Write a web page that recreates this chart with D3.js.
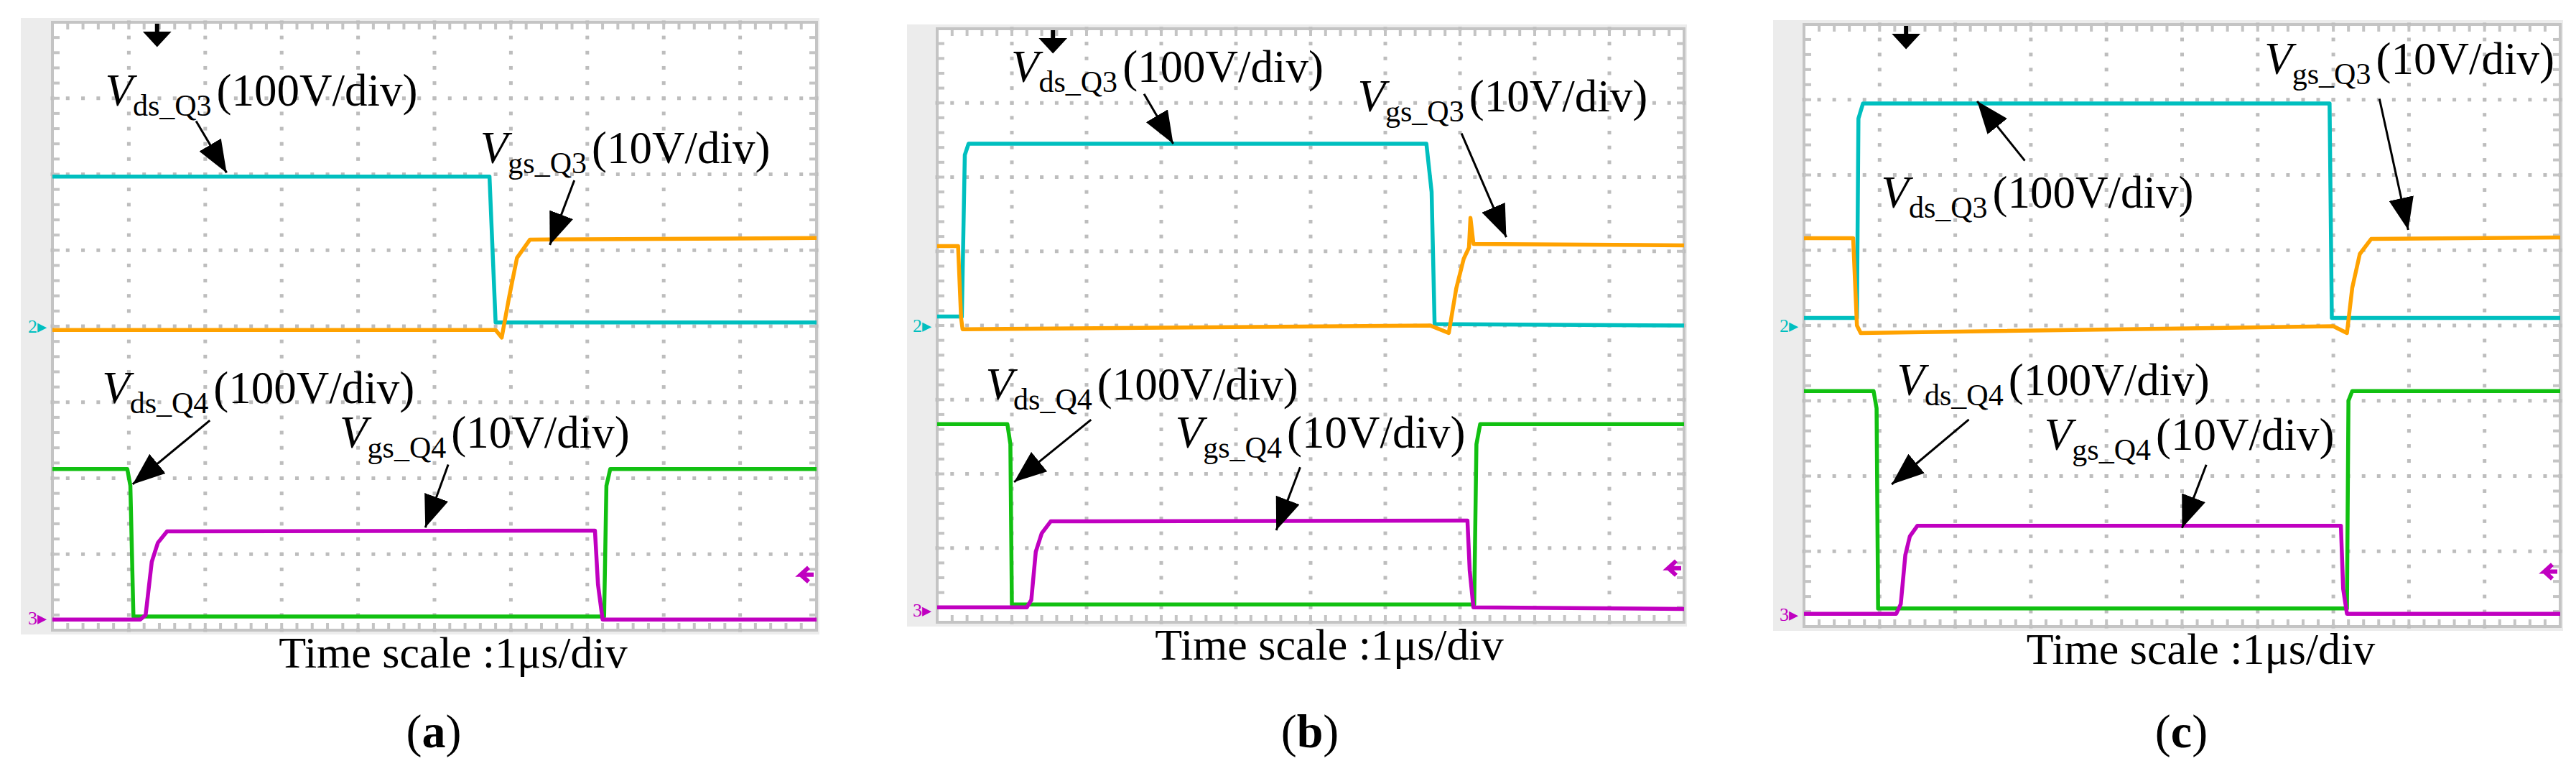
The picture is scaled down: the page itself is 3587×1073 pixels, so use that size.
<!DOCTYPE html>
<html>
<head>
<meta charset="utf-8">
<script src="https://cdn.jsdelivr.net/npm/d3@7"></script>
<style>
  body { margin: 0; background: #fff; }
  text { font-family: "Liberation Serif", "Times New Roman", serif; }
</style>
</head>
<body>
<div id="chart"></div>
<script>
const width = 3587;
const height = 1073;

// Waveforms: [time in div (0..10), level in div from top (0..8)]
const vdsQ3 = {
  a: [[0, 2.03], [5.72, 2.03], [5.76, 3.0], [5.8, 3.95], [10, 3.95]],
  b: [[0, 3.88], [0.33, 3.88], [0.37, 1.7], [0.42, 1.55], [6.55, 1.55], [6.62, 2.2], [6.66, 3.98], [10, 4.0]],
  c: [[0, 3.9], [0.7, 3.9], [0.72, 1.25], [0.78, 1.05], [6.95, 1.05], [6.98, 3.9], [10, 3.9]]
};
const vgsQ3 = {
  a: [[0, 4.05], [5.8, 4.05], [5.88, 4.15], [5.98, 3.6], [6.08, 3.1], [6.25, 2.86], [10, 2.84]],
  b: [[0, 2.93], [0.28, 2.93], [0.32, 3.9], [0.34, 4.05], [6.6, 4.0], [6.85, 4.1], [6.95, 3.5], [7.05, 3.1], [7.12, 2.95], [7.14, 2.55], [7.18, 2.9], [10, 2.92]],
  c: [[0, 2.84], [0.65, 2.84], [0.7, 4.0], [0.75, 4.1], [7.0, 4.01], [7.18, 4.1], [7.25, 3.5], [7.35, 3.05], [7.5, 2.85], [10, 2.83]]
};
const vdsQ4 = {
  a: [[0, 5.88], [0.98, 5.88], [1.02, 6.1], [1.06, 7.82], [7.22, 7.82], [7.25, 6.1], [7.3, 5.88], [10, 5.88]],
  b: [[0, 5.33], [0.94, 5.33], [0.98, 5.6], [1.0, 7.76], [7.19, 7.76], [7.22, 5.6], [7.27, 5.33], [10, 5.33]],
  c: [[0, 4.87], [0.92, 4.87], [0.96, 5.1], [0.98, 7.76], [7.18, 7.76], [7.2, 5.0], [7.25, 4.87], [10, 4.87]]
};
const vgsQ4 = {
  a: [[0, 7.86], [1.15, 7.86], [1.22, 7.8], [1.3, 7.1], [1.38, 6.85], [1.5, 6.7], [7.1, 6.69], [7.14, 7.4], [7.2, 7.86], [10, 7.86]],
  b: [[0, 7.8], [1.2, 7.8], [1.26, 7.7], [1.32, 7.05], [1.4, 6.8], [1.52, 6.64], [7.1, 6.63], [7.13, 7.3], [7.18, 7.8], [10, 7.82]],
  c: [[0, 7.83], [1.22, 7.83], [1.28, 7.7], [1.34, 7.05], [1.4, 6.8], [1.5, 6.66], [7.1, 6.66], [7.13, 7.5], [7.18, 7.83], [10, 7.83]]
};

const panelIds = ["a", "b", "c"];
const traceColors = { vdsQ3: "#00bfbf", vgsQ3: "#ffa200", vdsQ4: "#11c011", vgsQ4: "#c000c0" };

// label text parts and pointer arrows, in div units
const labels = {
  a: [
    { sub: "ds_Q3", unit: "(100V/div)", x: 0.69, y: 1.1, arrow: [[1.88, 1.3], [2.28, 1.98]] },
    { sub: "gs_Q3", unit: "(10V/div)", x: 5.6, y: 1.85, arrow: [[6.83, 2.08], [6.51, 2.93]] },
    { sub: "ds_Q4", unit: "(100V/div)", x: 0.65, y: 5.01, arrow: [[2.06, 5.24], [1.05, 6.08]] },
    { sub: "gs_Q4", unit: "(10V/div)", x: 3.76, y: 5.6, arrow: [[5.18, 5.82], [4.88, 6.65]] }
  ],
  b: [
    { sub: "ds_Q3", unit: "(100V/div)", x: 0.99, y: 0.72, arrow: [[2.77, 0.88], [3.16, 1.55]] },
    { sub: "gs_Q3", unit: "(10V/div)", x: 5.63, y: 1.11, arrow: [[7.02, 1.41], [7.62, 2.81]] },
    { sub: "ds_Q4", unit: "(100V/div)", x: 0.65, y: 5.0, arrow: [[2.06, 5.27], [1.03, 6.11]] },
    { sub: "gs_Q4", unit: "(10V/div)", x: 3.19, y: 5.65, arrow: [[4.86, 5.91], [4.54, 6.76]] }
  ],
  c: [
    { sub: "ds_Q3", unit: "(100V/div)", x: 1.02, y: 2.43, arrow: [[2.92, 1.81], [2.29, 1.02]] },
    { sub: "gs_Q3", unit: "(10V/div)", x: 6.09, y: 0.66, arrow: [[7.61, 0.99], [7.99, 2.73]] },
    { sub: "ds_Q4", unit: "(100V/div)", x: 1.23, y: 4.93, arrow: [[2.18, 5.25], [1.16, 6.11]] },
    { sub: "gs_Q4", unit: "(10V/div)", x: 3.18, y: 5.65, arrow: [[5.32, 5.85], [5.0, 6.69]] }
  ]
};
const triggerX = { a: 1.37, b: 1.55, c: 1.35 };

// grid boxes in page pixels
const boxes = {
  a: { x: 73, y: 31, w: 1064, h: 846, grey: 29 },
  b: { x: 1305, y: 40, w: 1040, h: 826, grey: 1263 },
  c: { x: 2512, y: 34, w: 1053, h: 838, grey: 2469 }
};

const svg = d3.select("#chart").append("svg").attr("width", width).attr("height", height);
svg.append("defs").append("marker").attr("id", "head")
  .attr("markerUnits", "userSpaceOnUse").attr("orient", "auto")
  .attr("viewBox", "0 0 45 35")
  .attr("markerWidth", 45).attr("markerHeight", 35).attr("refX", 45).attr("refY", 17.5)
  .append("path").attr("d", "M0,0 L45,17.5 L0,35 Z").attr("fill", "#000");

panelIds.forEach((id) => {
  const b = boxes[id];
  const x = d3.scaleLinear().domain([0, 10]).range([b.x, b.x + b.w]);
  const y = d3.scaleLinear().domain([0, 8]).range([b.y, b.y + b.h]);
  const g = svg.append("g");

  // screen frame
  g.append("rect").attr("x", b.grey).attr("y", b.y - 6).attr("width", b.x + b.w + 4 - b.grey).attr("height", b.h + 12).attr("fill", "#ececec");
  g.append("rect").attr("x", b.x).attr("y", b.y).attr("width", b.w).attr("height", b.h).attr("fill", "#fff").attr("stroke", "#c4c4c4").attr("stroke-width", 4);

  // dotted grid
  const minor = d3.range(0, 50.01, 1).map((d) => d / 5);
  const minorY = d3.range(0, 40.01, 1).map((d) => d / 5);
  d3.range(1, 10).forEach((gx) => {
    g.selectAll(null).data(minorY).join("rect")
      .attr("x", x(gx) - 2.5).attr("y", (d) => y(d) - 2.5).attr("width", 5).attr("height", 5).attr("fill", "#bdbdbd");
  });
  d3.range(1, 8).forEach((gy) => {
    g.selectAll(null).data(minor).join("rect")
      .attr("x", (d) => x(d) - 2.5).attr("y", y(gy) - 2.5).attr("width", 5).attr("height", 5).attr("fill", "#bdbdbd");
  });
  // border ticks
  const tick = (sel) => sel.attr("stroke", "#c4c4c4").attr("stroke-width", 4);
  tick(g.selectAll(null).data(minor).join("line")
    .attr("x1", (d) => x(d)).attr("x2", (d) => x(d)).attr("y1", b.y).attr("y2", b.y + 10));
  tick(g.selectAll(null).data(minor).join("line")
    .attr("x1", (d) => x(d)).attr("x2", (d) => x(d)).attr("y1", b.y + b.h).attr("y2", b.y + b.h - 10));
  tick(g.selectAll(null).data(minorY).join("line")
    .attr("y1", (d) => y(d)).attr("y2", (d) => y(d)).attr("x1", b.x).attr("x2", b.x + 10));
  tick(g.selectAll(null).data(minorY).join("line")
    .attr("y1", (d) => y(d)).attr("y2", (d) => y(d)).attr("x1", b.x + b.w).attr("x2", b.x + b.w - 10));

  // traces
  const line = d3.line().x((d) => x(d[0])).y((d) => y(d[1]));
  [["vdsQ4", vdsQ4], ["vgsQ4", vgsQ4], ["vdsQ3", vdsQ3], ["vgsQ3", vgsQ3]].forEach(([k, s]) => {
    g.append("path").attr("d", line(s[id])).attr("fill", "none")
      .attr("stroke", traceColors[k]).attr("stroke-width", 5.5).attr("stroke-linejoin", "round");
  });

  // channel ground markers and trigger
  g.append("text").attr("x", b.x - 34).attr("y", y(4.0) + 9).attr("font-size", 26).attr("fill", traceColors.vdsQ3)
    .attr("font-family", "DejaVu Sans").text("2▸");
  g.append("text").attr("x", b.x - 34).attr("y", y(7.84) + 9).attr("font-size", 26).attr("fill", traceColors.vgsQ4)
    .attr("font-family", "DejaVu Sans").text("3▸");
  g.append("path").attr("d", `M${b.x + b.w - 4},${y(7.27)} l-18,0 l11,-10 m-11,10 l11,10`)
    .attr("stroke", traceColors.vgsQ4).attr("stroke-width", 6).attr("fill", "none");
  g.append("path").attr("d", `M${x(triggerX[id])},${b.y + 2} l0,26 m-13,-12 l13,14 l13,-14 z`)
    .attr("stroke", "#000").attr("stroke-width", 6).attr("fill", "#000");

  // annotations
  labels[id].forEach((l) => {
    const t = g.append("text").attr("x", x(l.x)).attr("y", y(l.y)).attr("font-size", 63).attr("fill", "#000");
    t.append("tspan").attr("font-style", "italic").text("V");
    t.append("tspan").attr("font-size", 42).attr("dy", 14).text(l.sub);
    t.append("tspan").attr("dy", -14).attr("dx", 7).text(l.unit);
    g.append("line").attr("x1", x(l.arrow[0][0])).attr("y1", y(l.arrow[0][1]))
      .attr("x2", x(l.arrow[1][0])).attr("y2", y(l.arrow[1][1]))
      .attr("stroke", "#000").attr("stroke-width", 3).attr("marker-end", "url(#head)");
  });

  g.append("text").attr("x", b.x + b.w / 2 + 26).attr("y", b.y + b.h + 52).attr("text-anchor", "middle")
    .attr("font-size", 62).text("Time scale :1μs/div");
  const cap = g.append("text").attr("x", b.x + b.w / 2 - 1).attr("y", 1040).attr("text-anchor", "middle").attr("font-size", 66);
  cap.append("tspan").text("(");
  cap.append("tspan").attr("font-weight", "bold").text(id);
  cap.append("tspan").text(")");
});
</script>
</body>
</html>
